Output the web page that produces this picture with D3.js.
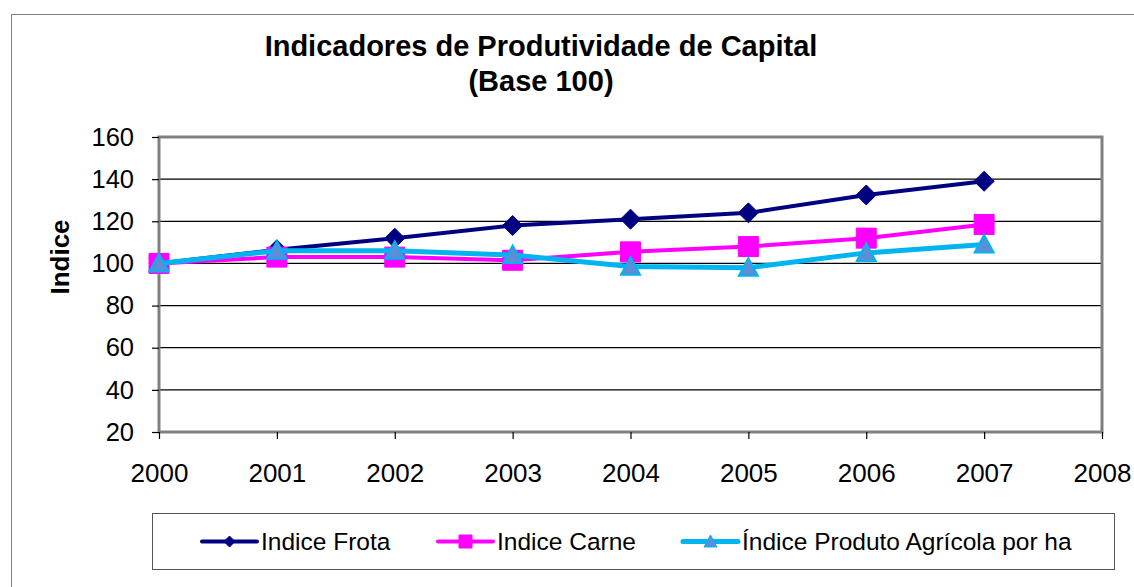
<!DOCTYPE html>
<html>
<head>
<meta charset="utf-8">
<script src="https://cdn.jsdelivr.net/npm/d3@7"></script>
<style>
  html, body { margin: 0; padding: 0; background: #fff; }
  svg { display: block; font-family: "Liberation Sans", Arial, sans-serif; }
</style>
</head>
<body>
<svg id="chart" width="1134" height="587"></svg>
<script>
const years = [2000, 2001, 2002, 2003, 2004, 2005, 2006, 2007];
const xTicks = [2000, 2001, 2002, 2003, 2004, 2005, 2006, 2007, 2008];
const yTicks = [20, 40, 60, 80, 100, 120, 140, 160];
const indiceFrota = [100, 106.5, 112, 118, 121, 124, 132.5, 139];
const indiceCarne = [100, 103, 103, 101.5, 105.5, 108, 112, 118.5];
const indiceAgricola = [100, 106, 106, 104, 98.5, 98, 105, 109];
const seriesNames = ["Indice Frota", "Indice Carne", "Índice Produto Agrícola por ha"];
const titleLines = ["Indicadores de Produtividade de Capital", "(Base 100)"];
const yTitle = "Indice";

const series = [
  { name: seriesNames[0], values: indiceFrota, color: "#000080", fill: "#000080", stroke: "#000080", marker: "diamond", width: 4 },
  { name: seriesNames[1], values: indiceCarne, color: "#FF00FF", fill: "#FF00FF", stroke: "#FF00FF", marker: "square", width: 4 },
  { name: seriesNames[2], values: indiceAgricola, color: "#00B4F0", fill: "#5B8ED6", stroke: "#00B4F0", marker: "triangle", width: 5 }
];

const svg = d3.select("#chart");
const L = 159, R = 1102, T = 137, B = 432;

// outer frame
svg.append("rect").attr("x", 11.5).attr("y", 14.5).attr("width", 1140).attr("height", 600)
  .attr("fill", "#fff").attr("stroke", "#808080").attr("stroke-width", 1);

const x = d3.scaleLinear().domain([2000, 2008]).range([L, R]);
const y = d3.scaleLinear().domain([20, 160]).range([B, T]);

// gridlines
svg.append("g").selectAll("line").data(yTicks.filter(d => d > 20 && d < 160)).join("line")
  .attr("x1", L).attr("x2", R).attr("y1", d => y(d)).attr("y2", d => y(d))
  .attr("stroke", "#000").attr("stroke-width", 1.2);

// plot border
svg.append("rect").attr("x", L).attr("y", T).attr("width", R - L).attr("height", B - T)
  .attr("fill", "none").attr("stroke", "#808080").attr("stroke-width", 3);

// y axis
const yAxis = svg.append("g").attr("transform", `translate(${L},0)`)
  .call(d3.axisLeft(y).tickValues(yTicks).tickSize(7).tickPadding(18).tickFormat(d3.format("d")));
yAxis.select(".domain").remove();
yAxis.selectAll(".tick line").attr("stroke", "#000").attr("stroke-width", 1.2);
yAxis.selectAll(".tick text").attr("font-size", 25.5).attr("fill", "#000")
  .attr("font-family", "Liberation Sans, Arial, sans-serif");

// x axis
const xAxis = svg.append("g").attr("transform", `translate(0,${B})`)
  .call(d3.axisBottom(x).tickValues(xTicks).tickSize(7).tickFormat(d3.format("d")));
xAxis.select(".domain").remove();
xAxis.selectAll(".tick line").attr("stroke", "#000").attr("stroke-width", 1.2);
xAxis.selectAll(".tick text").attr("font-size", 26).attr("fill", "#000")
  .attr("dy", null).attr("y", 50)
  .attr("font-family", "Liberation Sans, Arial, sans-serif");

// titles
svg.append("text").attr("x", 541).attr("y", 56).attr("text-anchor", "middle")
  .attr("font-size", 29).attr("font-weight", "bold").text(titleLines[0]);
svg.append("text").attr("x", 541).attr("y", 91).attr("text-anchor", "middle")
  .attr("font-size", 29).attr("font-weight", "bold").text(titleLines[1]);
svg.append("text").attr("transform", "translate(69,257) rotate(-90)").attr("text-anchor", "middle")
  .attr("font-size", 26).attr("font-weight", "bold").text(yTitle);

function markerPath(type, s) {
  const h = s / 2;
  if (type === "diamond") return `M0,${-h}L${h},0L0,${h}L${-h},0Z`;
  if (type === "square") return `M${-h},${-h}H${h}V${h}H${-h}Z`;
  return `M0,${-h}L${h},${h * 0.85}L${-h},${h * 0.85}Z`;
}

const line = d3.line().x((d, i) => x(years[i])).y(d => y(d));
series.forEach(s => {
  const g = svg.append("g");
  g.append("path").attr("d", line(s.values)).attr("fill", "none")
    .attr("stroke", s.color).attr("stroke-width", s.width).attr("stroke-linejoin", "round");
  g.selectAll("path.m").data(s.values).join("path").attr("class", "m")
    .attr("transform", (d, i) => `translate(${x(years[i])},${y(d)})`)
    .attr("d", markerPath(s.marker, s.marker === "triangle" ? 19 : 20))
    .attr("fill", s.fill).attr("stroke", s.stroke).attr("stroke-width", s.marker === "triangle" ? 2 : 1);
});

// legend
svg.append("rect").attr("x", 152.5).attr("y", 513.5).attr("width", 962).attr("height", 56)
  .attr("fill", "#fff").attr("stroke", "#555").attr("stroke-width", 1);
const legendX = [202, 438, 683];
series.forEach((s, i) => {
  const g = svg.append("g").attr("transform", `translate(${legendX[i]},541.5)`);
  g.append("line").attr("x1", 0).attr("x2", 55).attr("y1", 0).attr("y2", 0)
    .attr("stroke", s.color).attr("stroke-width", s.width).attr("stroke-linecap", "round");
  g.append("path").attr("transform", "translate(27.5,0)")
    .attr("d", markerPath(s.marker, s.marker === "diamond" ? 11 : 13))
    .attr("fill", s.fill).attr("stroke", s.stroke).attr("stroke-width", 1);
  g.append("text").attr("x", 59).attr("y", 8.5).attr("font-size", 24.5).attr("fill", "#000").text(s.name);
});
</script>
</body>
</html>
